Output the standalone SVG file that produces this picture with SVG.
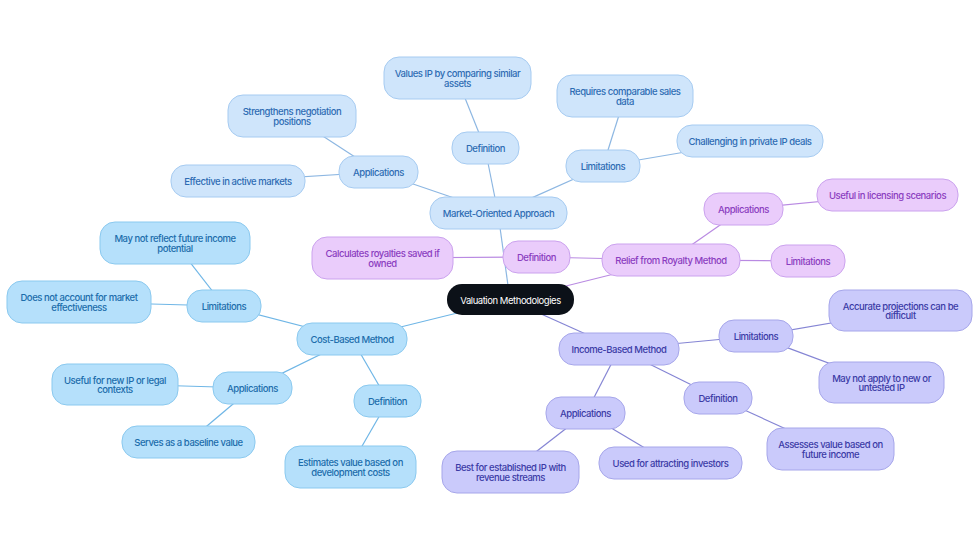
<svg xmlns="http://www.w3.org/2000/svg" width="980" height="553" viewBox="0 0 980 553">
<style>
text{font-family:Inter,"Liberation Sans",sans-serif;font-size:9.5px;font-weight:500;letter-spacing:-0.45px;text-anchor:middle;dominant-baseline:central}
.m rect{fill:#cfe5fb;stroke:#a6cbf1;stroke-width:1}
.m text{fill:#2e6cb3}
.c rect{fill:#b5e0fb;stroke:#8ac9ef;stroke-width:1}
.c text{fill:#1c6dab}
.r rect{fill:#eaccfb;stroke:#cba2ee;stroke-width:1}
.r text{fill:#8a3dc0}
.i rect{fill:#cacafb;stroke:#a6a6ea;stroke-width:1}
.i text{fill:#3b3ba6}
.root rect{fill:#0c1118}
.root text{fill:#ffffff;font-weight:400}
.e line{stroke-width:1.2;fill:none}
.em{stroke:#8db7e2}
.ec{stroke:#6fb6e6}
.er{stroke:#b98ae2}
.ei{stroke:#8585d4}
</style>
<g id="connectors" class="e">
<line class="em" x1="510" y1="300" x2="498" y2="213"/>
<line class="er" x1="510" y1="300" x2="670" y2="260"/>
<line class="ec" x1="510" y1="300" x2="352" y2="339"/>
<line class="ei" x1="510" y1="300" x2="619" y2="349"/>
<line class="em" x1="498" y1="213" x2="485" y2="148"/>
<line class="em" x1="498" y1="213" x2="603" y2="166"/>
<line class="em" x1="498" y1="213" x2="378" y2="172"/>
<line class="em" x1="485" y1="148" x2="457" y2="78"/>
<line class="em" x1="603" y1="166" x2="625" y2="96"/>
<line class="em" x1="603" y1="166" x2="750" y2="141"/>
<line class="em" x1="378" y1="172" x2="292" y2="116"/>
<line class="em" x1="378" y1="172" x2="238" y2="181"/>
<line class="er" x1="670" y1="260" x2="537" y2="257"/>
<line class="er" x1="670" y1="260" x2="743" y2="209"/>
<line class="er" x1="670" y1="260" x2="808" y2="261"/>
<line class="er" x1="537" y1="257" x2="383" y2="258"/>
<line class="er" x1="743" y1="209" x2="887" y2="195"/>
<line class="ec" x1="352" y1="339" x2="224" y2="306"/>
<line class="ec" x1="352" y1="339" x2="252" y2="388"/>
<line class="ec" x1="352" y1="339" x2="388" y2="401"/>
<line class="ec" x1="224" y1="306" x2="175" y2="243"/>
<line class="ec" x1="224" y1="306" x2="79" y2="302"/>
<line class="ec" x1="252" y1="388" x2="115" y2="384"/>
<line class="ec" x1="252" y1="388" x2="188" y2="442"/>
<line class="ec" x1="388" y1="401" x2="350" y2="467"/>
<line class="ei" x1="619" y1="349" x2="756" y2="336"/>
<line class="ei" x1="619" y1="349" x2="718" y2="398"/>
<line class="ei" x1="619" y1="349" x2="586" y2="413"/>
<line class="ei" x1="756" y1="336" x2="901" y2="311"/>
<line class="ei" x1="756" y1="336" x2="882" y2="383"/>
<line class="ei" x1="718" y1="398" x2="830" y2="449"/>
<line class="ei" x1="586" y1="413" x2="510" y2="472"/>
<line class="ei" x1="586" y1="413" x2="670" y2="463"/>
</g>
<g id="root" class="root"><rect x="447" y="284" width="127" height="31" rx="15"/><text x="510.5" y="300">Valuation Methodologies</text></g>
<g id="market" class="m"><rect x="430" y="197" width="137" height="32" rx="15"/><text x="498.5" y="213">Market-Oriented Approach</text></g>
<g id="market-def" class="m"><rect x="452" y="132" width="67" height="32" rx="15"/><text x="485.5" y="148">Definition</text></g>
<g id="market-def-1" class="m"><rect x="384" y="57" width="147" height="42" rx="15"/><text x="457.5" y="73.5">Values IP by comparing similar</text><text x="457.5" y="83">assets</text></g>
<g id="market-lim" class="m"><rect x="566" y="150" width="74" height="32" rx="15"/><text x="603" y="166">Limitations</text></g>
<g id="market-lim-1" class="m"><rect x="557" y="75" width="136" height="42" rx="15"/><text x="625" y="91.5">Requires comparable sales</text><text x="625" y="101">data</text></g>
<g id="market-lim-2" class="m"><rect x="677" y="125" width="146" height="32" rx="15"/><text x="750" y="141">Challenging in private IP deals</text></g>
<g id="market-app" class="m"><rect x="339" y="156" width="79" height="32" rx="15"/><text x="378.5" y="172">Applications</text></g>
<g id="market-app-1" class="m"><rect x="228" y="95" width="128" height="42" rx="15"/><text x="292" y="111.5">Strengthens negotiation</text><text x="292" y="121">positions</text></g>
<g id="market-app-2" class="m"><rect x="171" y="165" width="134" height="32" rx="15"/><text x="238" y="181">Effective in active markets</text></g>
<g id="relief" class="r"><rect x="602" y="244" width="138" height="32" rx="15"/><text x="671" y="260">Relief from Royalty Method</text></g>
<g id="relief-def" class="r"><rect x="503" y="241" width="67" height="32" rx="15"/><text x="536.5" y="257">Definition</text></g>
<g id="relief-def-1" class="r"><rect x="312" y="237" width="141" height="42" rx="15"/><text x="382.5" y="253.5">Calculates royalties saved if</text><text x="382.5" y="263">owned</text></g>
<g id="relief-app" class="r"><rect x="704" y="193" width="79" height="32" rx="15"/><text x="743.5" y="209">Applications</text></g>
<g id="relief-app-1" class="r"><rect x="817" y="179" width="141" height="32" rx="15"/><text x="887.5" y="195">Useful in licensing scenarios</text></g>
<g id="relief-lim" class="r"><rect x="771" y="245" width="74" height="32" rx="15"/><text x="808" y="261">Limitations</text></g>
<g id="cost" class="c"><rect x="297" y="323" width="110" height="32" rx="15"/><text x="352" y="339">Cost-Based Method</text></g>
<g id="cost-lim" class="c"><rect x="187" y="290" width="74" height="32" rx="15"/><text x="224" y="306">Limitations</text></g>
<g id="cost-lim-1" class="c"><rect x="100" y="222" width="150" height="42" rx="15"/><text x="175" y="238.5">May not reflect future income</text><text x="175" y="248">potential</text></g>
<g id="cost-lim-2" class="c"><rect x="7" y="281" width="144" height="42" rx="15"/><text x="79" y="297.5">Does not account for market</text><text x="79" y="307">effectiveness</text></g>
<g id="cost-app" class="c"><rect x="213" y="372" width="79" height="32" rx="15"/><text x="252.5" y="388">Applications</text></g>
<g id="cost-app-1" class="c"><rect x="52" y="364" width="126" height="41" rx="15"/><text x="115" y="380">Useful for new IP or legal</text><text x="115" y="389.5">contexts</text></g>
<g id="cost-app-2" class="c"><rect x="122" y="426" width="133" height="32" rx="15"/><text x="188.5" y="442">Serves as a baseline value</text></g>
<g id="cost-def" class="c"><rect x="354" y="385" width="67" height="32" rx="15"/><text x="387.5" y="401">Definition</text></g>
<g id="cost-def-1" class="c"><rect x="285" y="446" width="131" height="42" rx="15"/><text x="350.5" y="462.5">Estimates value based on</text><text x="350.5" y="472">development costs</text></g>
<g id="income" class="i"><rect x="559" y="333" width="120" height="32" rx="15"/><text x="619" y="349">Income-Based Method</text></g>
<g id="income-lim" class="i"><rect x="719" y="320" width="74" height="32" rx="15"/><text x="756" y="336">Limitations</text></g>
<g id="income-lim-1" class="i"><rect x="829" y="290" width="143" height="41" rx="15"/><text x="900.5" y="306">Accurate projections can be</text><text x="900.5" y="315.5">difficult</text></g>
<g id="income-lim-2" class="i"><rect x="819" y="362" width="125" height="41" rx="15"/><text x="881.5" y="378">May not apply to new or</text><text x="881.5" y="387.5">untested IP</text></g>
<g id="income-def" class="i"><rect x="684" y="382" width="68" height="32" rx="15"/><text x="718" y="398">Definition</text></g>
<g id="income-def-1" class="i"><rect x="767" y="428" width="127" height="42" rx="15"/><text x="830.5" y="444.5">Assesses value based on</text><text x="830.5" y="454">future income</text></g>
<g id="income-app" class="i"><rect x="546" y="397" width="79" height="32" rx="15"/><text x="585.5" y="413">Applications</text></g>
<g id="income-app-1" class="i"><rect x="442" y="451" width="137" height="42" rx="15"/><text x="510.5" y="467.5">Best for established IP with</text><text x="510.5" y="477">revenue streams</text></g>
<g id="income-app-2" class="i"><rect x="599" y="447" width="143" height="32" rx="15"/><text x="670.5" y="463">Used for attracting investors</text></g>
</svg>
